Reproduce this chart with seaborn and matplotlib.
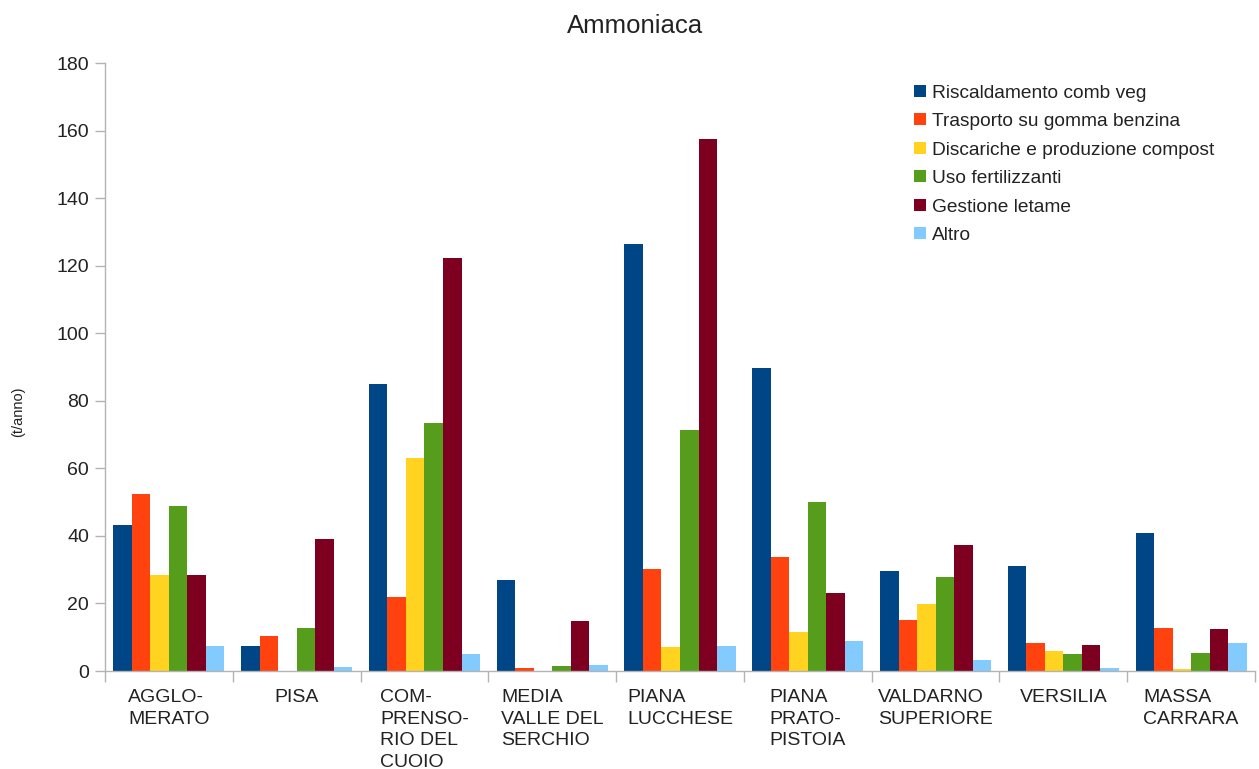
import matplotlib
matplotlib.use("Agg")
import matplotlib.pyplot as plt
import seaborn as sns
import pandas as pd
import numpy as np

regions = ["AGGLO-\nMERATO", "PISA", "COM-\nPRENSO-\nRIO DEL\nCUOIO", "MEDIA\nVALLE DEL\nSERCHIO",
           "PIANA\nLUCCHESE", "PIANA\nPRATO-\nPISTOIA", "VALDARNO\nSUPERIORE", "VERSILIA", "MASSA\nCARRARA"]
series = ["Riscaldamento comb veg", "Trasporto su gomma benzina", "Discariche e produzione compost",
          "Uso fertilizzanti", "Gestione letame", "Altro"]
riscaldamento = [43.2, 7.4, 85.0, 26.9, 126.4, 89.7, 29.6, 31.1, 40.9]
trasporto = [52.4, 10.4, 21.9, 0.9, 30.2, 33.7, 15.1, 8.3, 12.7]
discariche = [28.4, 0.0, 63.0, 0.0, 7.1, 11.5, 19.8, 5.9, 0.6]
fertilizzanti = [48.8, 12.7, 73.4, 1.5, 71.3, 50.0, 27.8, 5.0, 5.3]
letame = [28.4, 39.1, 122.3, 14.8, 157.5, 23.1, 37.3, 7.7, 12.4]
altro = [7.4, 1.2, 5.0, 1.8, 7.4, 8.9, 3.3, 0.9, 8.3]
colors = ["#004586", "#ff420e", "#ffd320", "#579d1c", "#7e0021", "#83caff"]

values = [riscaldamento, trasporto, discariche, fertilizzanti, letame, altro]
rows = []
for s, vals in zip(series, values):
    for r, v in zip(regions, vals):
        rows.append({"Zona": r, "Fonte": s, "Valore": v})
df = pd.DataFrame(rows)

sns.set_theme(style="white")
plt.rcParams["font.family"] = ["Liberation Sans", "DejaVu Sans"]

fig = plt.figure(figsize=(12.59, 7.69), dpi=100)
ax = fig.add_axes([105/1259, 1-671/769, 1150/1259, 608/769])

sns.barplot(data=df, x="Zona", y="Valore", hue="Fonte", order=regions, hue_order=series,
            palette=colors, width=0.87, saturation=1, ax=ax, linewidth=0, legend=True)

ax.set_ylim(0, 180)
ax.set_xlim(-0.5, len(regions) - 0.5)
ax.set_yticks(np.arange(0, 181, 20))
ax.tick_params(axis="y", labelsize=14, length=7.2, width=1, color="#b3b3b3", direction="out", pad=4.3,
               left=True, labelcolor="#222222")
ax.set_xticks(range(len(regions)))
ax.set_xticklabels(regions, fontsize=14, ha="center", va="top", multialignment="left",
                   color="#222222", linespacing=1.36)
ax.tick_params(axis="x", which="major", length=0, pad=13)
ax.set_xticks(np.arange(-0.5, len(regions), 1.0), minor=True)
ax.tick_params(axis="x", which="minor", length=8, width=1, color="#b3b3b3", direction="out", bottom=True)

for side in ["top", "right"]:
    ax.spines[side].set_visible(False)
for side in ["left", "bottom"]:
    ax.spines[side].set_color("#b3b3b3")
    ax.spines[side].set_linewidth(1)

ax.set_xlabel("")
ax.set_ylabel("")
ax.grid(False)
fig.text(18/1259, 1 - 412/769, "(t/anno)", rotation=90, ha="center", va="center", fontsize=10.5,
         color="#222222")

fig.text(635/1259, 1 - 26/769, "Ammoniaca", ha="center", va="center", fontsize=18.5, color="#222222")

leg = ax.legend(loc="upper left", bbox_to_anchor=(0.697, 0.977), frameon=False, fontsize=13.8,
                handlelength=0.6, handleheight=0.6, handletextpad=0.35, labelspacing=0.6,
                borderaxespad=0)
for t in leg.get_texts():
    t.set_color("#222222")

fig.savefig("out.png", dpi=100)
